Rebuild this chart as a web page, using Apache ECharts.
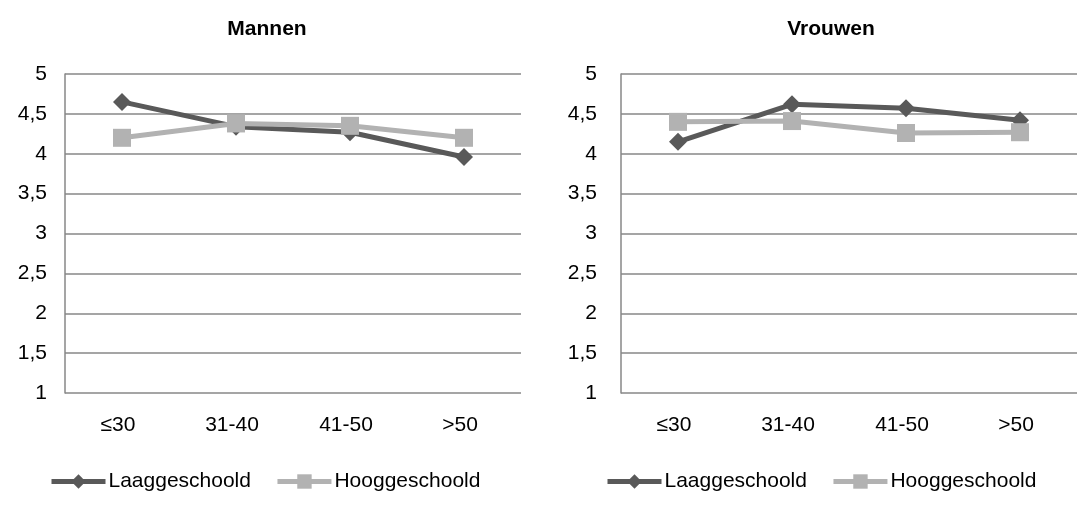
<!DOCTYPE html>
<html>
<head>
<meta charset="utf-8">
<script src="https://cdn.jsdelivr.net/npm/echarts@6/dist/echarts.min.js"></script>
<style>
  html, body { margin: 0; padding: 0; background: #fff; }
  #chart { width: 1088px; height: 509px; }
</style>
</head>
<body>
<div id="chart"></div>
<script>
// age groups on the x axis
const categories = ['≤30', '31-40', '41-50', '>50']
const seriesNames = ['Laaggeschoold', 'Hooggeschoold']
const panelTitles = ['Mannen', 'Vrouwen']

// Mannen
const mannenLaag = [4.65, 4.34, 4.27, 3.96]
const mannenHoog = [4.20, 4.38, 4.35, 4.20]
// Vrouwen
const vrouwenLaag = [4.15, 4.62, 4.57, 4.42]
const vrouwenHoog = [4.40, 4.41, 4.26, 4.27]

const DARK = '#595959'
const LIGHT = '#b2b2b2'
const GRID_COLOR = '#878787'
const FONT = 'Liberation Sans, Arial, sans-serif'

const chart = echarts.init(document.getElementById('chart'))

function xAxisFor(i) {
  return {
    type: 'category', gridIndex: i, data: categories,
    axisLine: { show: false }, axisTick: { show: false },
    axisLabel: { color: '#000', fontSize: 21, fontFamily: FONT, margin: 22, padding: [0, 8, 0, 0] },
  }
}

function yAxisFor(i, margin) {
  return {
    type: 'value', gridIndex: i, min: 1, max: 5, interval: 0.5,
    axisLine: { show: true, lineStyle: { color: GRID_COLOR, width: 1.5 } },
    axisTick: { show: false },
    splitLine: { lineStyle: { color: GRID_COLOR, width: 1.5 } },
    axisLabel: {
      color: '#000', fontSize: 21, fontFamily: FONT, margin: margin,
      formatter: v => String(v).replace('.', ','),
    },
  }
}

function lineSeries(name, data, i, color, symbol, size) {
  return {
    name, type: 'line', xAxisIndex: i, yAxisIndex: i, data,
    symbol, symbolSize: size,
    lineStyle: { color, width: 5 },
    itemStyle: { color },
    animation: false,
  }
}

function legendFor(left) {
  return {
    data: seriesNames.map(n => ({ name: n })),
    left, top: 466, itemWidth: 54, itemHeight: 18, itemGap: 24,
    lineStyle: { width: 5 },
    textStyle: { color: '#000', fontSize: 21, fontFamily: FONT, padding: [0, 0, 0, -2] },
    selectedMode: false,
  }
}

chart.setOption({
  backgroundColor: '#fff',
  title: [
    { text: panelTitles[0], left: 262, top: 14, textAlign: 'center',
      textStyle: { fontSize: 21, fontWeight: 'bold', fontFamily: FONT, color: '#000' } },
    { text: panelTitles[1], left: 826, top: 14, textAlign: 'center',
      textStyle: { fontSize: 21, fontWeight: 'bold', fontFamily: FONT, color: '#000' } },
  ],
  legend: [legendFor(44), legendFor(600)],
  grid: [
    { left: 65, top: 74, width: 456, height: 319 },
    { left: 621, top: 74, width: 456, height: 319 },
  ],
  xAxis: [xAxisFor(0), xAxisFor(1)],
  yAxis: [yAxisFor(0, 18), yAxisFor(1, 24)],
  series: [
    lineSeries(seriesNames[0], mannenLaag, 0, DARK, 'diamond', 18),
    lineSeries(seriesNames[1], mannenHoog, 0, LIGHT, 'rect', 18),
    lineSeries(seriesNames[0], vrouwenLaag, 1, DARK, 'diamond', 18),
    lineSeries(seriesNames[1], vrouwenHoog, 1, LIGHT, 'rect', 18),
  ],
})
</script>
</body>
</html>
